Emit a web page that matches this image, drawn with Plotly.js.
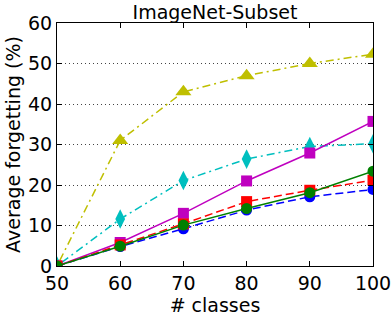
<!DOCTYPE html>
<html><head><meta charset="utf-8">
<script src="https://cdn.plot.ly/plotly-3.0.1.min.js"></script>
<style>html,body{margin:0;padding:0;background:#fff}</style>
</head><body><div id="chart" style="width:392px;height:316px"></div>
<script>
const classes = [50, 60, 70, 80, 90, 100];
const yellowTri = [0, 31, 43, 47, 50, 52.3];
const cyanDiamond = [0, 11.6, 21.1, 26.4, 29.5, 30.2];
const magentaSquare = [0, 5.8, 13, 21, 27.9, 35.7];
const blueCircle = [0, 4.8, 9.2, 13.8, 17.1, 18.9];
const redSquare = [0, 5.2, 10.4, 15.9, 18.7, 21.2];
const greenCircle = [0, 4.9, 10.1, 14.2, 18.1, 23.4];

const font = "DejaVu Sans, sans-serif";
function tr(y, color, dash, symbol, size) {
  return {x: classes, y: y, type: 'scatter', mode: 'lines+markers',
    line: {color: color, dash: dash, width: 1.5},
    marker: {color: color, symbol: symbol, size: size, line: {width: 0}},
    showlegend: false};
}
const data = [
  tr(yellowTri, '#bfbf00', '2px,4px,8px,4px', 'triangle-up', 14),
  tr(cyanDiamond, '#00bfbf', '2px,4px,8px,4px', 'diamond-tall', 14),
  tr(magentaSquare, '#bf00bf', 'solid', 'square', 11),
  tr(blueCircle, '#0000ff', '8px,4px', 'circle', 11),
  tr(redSquare, '#ff0000', '8px,4px', 'square', 11),
  tr(greenCircle, '#008000', 'solid', 'circle', 11)
];
const layout = {
  width: 392, height: 316,
  margin: {l: 57, r: 19, t: 23, b: 50},
  paper_bgcolor: '#fff', plot_bgcolor: '#fff',
  font: {family: font, color: '#000', size: 19},
  title: {text: 'ImageNet-Subset', font: {size: 19, family: font}, xref: 'paper', x: 0.5, xanchor: 'center', yref: 'paper', y: 1, yanchor: 'bottom', pad: {b: 4}},
  xaxis: {range: [50, 100], tickvals: classes, ticktext: classes.map(String),
    ticks: 'inside', ticklen: 5, tickcolor: '#000', mirror: 'ticks',
    showline: true, linecolor: '#000', linewidth: 1, showgrid: false, zeroline: false,
    tickfont: {size: 19, family: font},
    title: {text: '# classes', font: {size: 19, family: font}, standoff: 4}},
  yaxis: {range: [0, 60], tickvals: [0, 10, 20, 30, 40, 50, 60],
    ticks: 'inside', ticklen: 5, tickcolor: '#000', mirror: 'ticks',
    showline: true, linecolor: '#000', linewidth: 1,
    showgrid: true, gridcolor: '#444', griddash: '1px,3px', gridwidth: 1, zeroline: false,
    tickfont: {size: 19, family: font},
    title: {text: 'Average forgetting (%)', font: {size: 19, family: font}, standoff: 2}}
};
Plotly.newPlot('chart', data, layout, {staticPlot: true});
</script></body></html>
